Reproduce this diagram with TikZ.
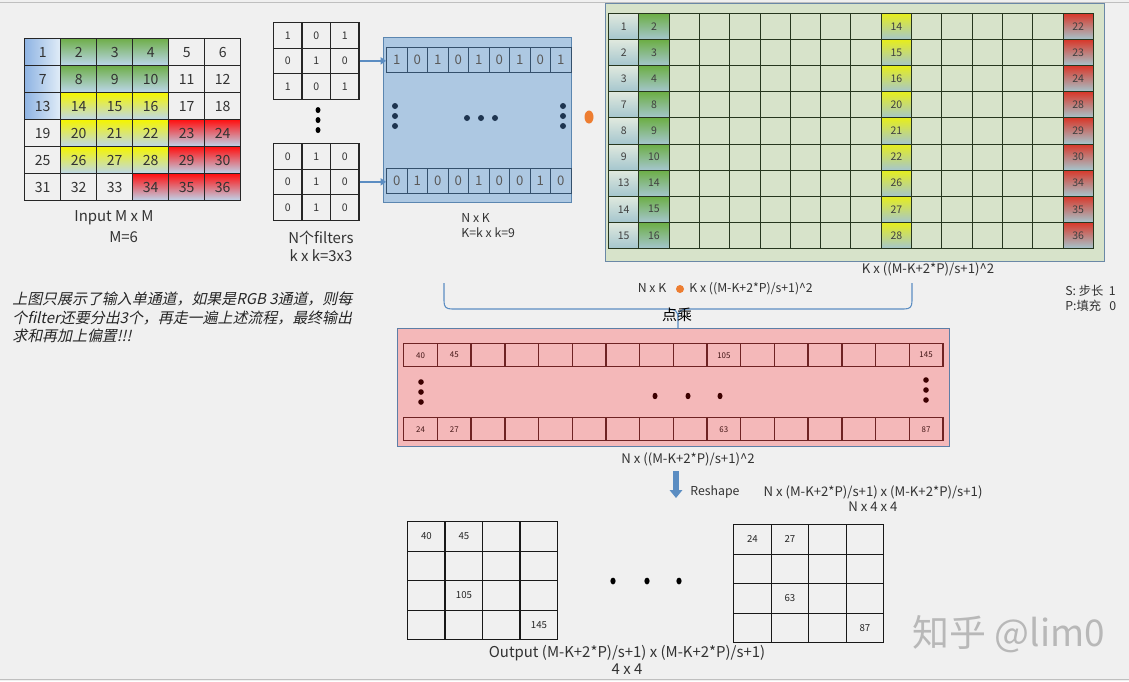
\documentclass[tikz,border=0pt]{standalone}
\usepackage{fontspec}
\setmainfont{Noto Sans CJK SC}
\newfontfamily\slantfont{Noto Sans CJK SC}[FakeSlant=0.22]
\usetikzlibrary{arrows.meta,positioning}

% colours
\definecolor{bgc}{HTML}{F0F0F0}
\definecolor{cblue}{HTML}{8FB4E3}
\definecolor{lblue}{HTML}{BDD7EE}
\definecolor{cgreen}{HTML}{6FAE4A}
\definecolor{cyellow}{HTML}{F5F500}
\definecolor{cred}{HTML}{FF1010}
\definecolor{boxblue}{HTML}{ADC8E2}
\definecolor{boxline}{HTML}{5B86B0}
\definecolor{rowline}{HTML}{34506C}
\definecolor{bdot}{HTML}{1E3550}
\definecolor{mgreen}{HTML}{D7E3CA}
\definecolor{gboxline}{HTML}{6A88A6}
\definecolor{mline}{HTML}{26361E}
\definecolor{mtop}{HTML}{E0E9DE}
\definecolor{mbot}{HTML}{A5C6CE}
\definecolor{mgr}{HTML}{6CAE45}
\definecolor{mye}{HTML}{E6EE1C}
\definecolor{mre}{HTML}{D8382A}
\definecolor{pinkfill}{HTML}{F4B8B9}
\definecolor{pboxline}{HTML}{5D7EA6}
\definecolor{pline}{HTML}{6E2323}
\definecolor{pdot}{HTML}{3C0000}
\definecolor{arrowblue}{HTML}{5B8DC2}
\definecolor{dotorange}{HTML}{ED7D31}

\begin{document}
\begin{tikzpicture}[x=0.02cm, y=-0.02cm,
    every node/.style={inner sep=0pt, text=black!80},
    lbl/.style={font=\fontsize{7}{8.5}\selectfont},
    incell/.style={draw=black!85, line width=0.8pt, anchor=north west, minimum width=0.72cm, minimum height=0.54cm, font=\fontsize{8}{9}\selectfont},
    ibl/.style={left color=cblue, right color=lblue!45!white},
    igr/.style={top color=cgreen, bottom color=lblue},
    iye/.style={top color=cyellow, bottom color=lblue},
    ire/.style={top color=cred, bottom color=lblue},
    iwh/.style={fill=bgc},
    fcell/.style={draw=black!85, line width=0.7pt, fill=bgc, anchor=north west, minimum width=0.57cm, minimum height=0.51cm, font=\fontsize{6}{7}\selectfont},
    bbox/.style={draw=boxline, fill=boxblue, line width=0.5pt, anchor=north west, minimum width=3.76cm, minimum height=3.3cm},
    rcell/.style={draw=rowline, line width=0.6pt, fill=boxblue, anchor=north west, minimum width=0.41cm, minimum height=0.5cm, text=black!65, font=\fontsize{7.5}{8}\selectfont},
    gbox/.style={draw=gboxline, fill=mgreen, line width=0.5pt, anchor=north west, minimum width=9.98cm, minimum height=5.16cm},
    mcell/.style={draw=mline, line width=0.6pt, fill=mgreen, anchor=north west, minimum width=0.606cm, minimum height=0.522cm, text=black!75, font=\fontsize{6}{7}\selectfont},
    mc1/.style={top color=mtop, bottom color=mbot},
    mc2/.style={top color=mgr, bottom color=mbot},
    mc3/.style={top color=mye, bottom color=mbot},
    mc4/.style={top color=mre, bottom color=mbot},
    pbox/.style={draw=pboxline, fill=pinkfill, line width=0.5pt, anchor=north west, minimum width=11.04cm, minimum height=2.36cm},
    pcell/.style={draw=pline, line width=0.8pt, fill=pinkfill, anchor=north west, minimum width=0.674cm, minimum height=0.46cm},
    ptxt/.style={text=pline!60!black, font=\fontsize{4.5}{5}\selectfont},
    ocell/.style={draw=black!90, line width=0.8pt, anchor=north west, minimum width=0.75cm, minimum height=0.59cm},
    otxt/.style={text=black!85, font=\fontsize{5.5}{6}\selectfont},
    link/.style={draw=arrowblue, line width=1.4pt, -{Triangle[length=3pt,width=4pt]}},
    brc/.style={draw=arrowblue, line width=0.6pt},
    bigarrow/.style={draw=arrowblue, line width=3pt, -{Triangle[length=4.5pt,width=7pt]}}
]

    % background
    \path[use as bounding box, fill=bgc] (0,0) rectangle (1129,681);
    \draw[black!25] (0,2) -- (1129,2);
    \draw[black!25] (0,679) -- (1129,679);

    % input M x M
    \foreach \n/\s in {1/ibl,2/igr,3/igr,4/igr,5/iwh,6/iwh,7/ibl,8/igr,9/igr,10/igr,11/iwh,12/iwh,
        13/ibl,14/iye,15/iye,16/iye,17/iwh,18/iwh,19/iwh,20/iye,21/iye,22/iye,23/ire,24/ire,
        25/iwh,26/iye,27/iye,28/iye,29/ire,30/ire,31/iwh,32/iwh,33/iwh,34/ire,35/ire,36/ire} {
        \pgfmathtruncatemacro\rr{(\n-1)/6}
        \pgfmathtruncatemacro\cc{mod(\n-1,6)}
        \node[incell,\s] (in\n) at ({24+36*\cc},{38+27*\rr}) {\n};
    }
    \node[font=\fontsize{8.5}{10}\selectfont] (inlbl) at (114,218) {Input M x M};
    \node[font=\fontsize{8.5}{10}\selectfont, below right=0.12cm and -0.9cm of inlbl] (mlbl) {M=6};

    % filters
    \foreach \v [count=\i from 0] in {1,0,1,0,1,0,1,0,1} {
        \pgfmathtruncatemacro\rr{\i/3}
        \pgfmathtruncatemacro\cc{mod(\i,3)}
        \node[fcell] (fa\i) at ({273+28.5*\cc},{22+25.5*\rr}) {\v};
    }
    \foreach \v [count=\i from 0] in {0,1,0,0,1,0,0,1,0} {
        \pgfmathtruncatemacro\rr{\i/3}
        \pgfmathtruncatemacro\cc{mod(\i,3)}
        \node[fcell] (fb\i) at ({273+28.5*\cc},{143+25.5*\rr}) {\v};
    }
    \foreach \y in {110,120,130} \fill[black] (318,\y) ellipse (2.5 and 3);
    \node[font=\fontsize{8.5}{10.2}\selectfont, align=center] (flbl) at (321,246) {N个filters\\ k x k=3x3};

    % N x K
    \node[bbox] (nk) at (383,37) {};
    \foreach \v [count=\i from 0] in {1,0,1,0,1,0,1,0,1}
        \node[rcell] (ra\i) at ({386+20.5*\i},47) {\v};
    \foreach \v [count=\i from 0] in {0,1,0,0,1,0,0,1,0}
        \node[rcell] (rb\i) at ({386+20.5*\i},168) {\v};
    \foreach \x/\y in {395/106,395/116,395/126,467/118,481/118,495/118,563/106,563/116,563/126}
        \fill[bdot] (\x,\y) circle (3);
    \node[lbl, align=left, anchor=north west] (nklbl) at (461,213) {N x K\\K=k x k=9};

    \draw[link] (fa5.east) -- (fa5.east -| ra0.west);
    \draw[link] (fb5.east) -- (fb5.east -| rb0.west);

    % dot product sign
    \fill[dotorange] (589,117) ellipse (4.5 and 6.5);

    % K x ((M-K+2P)/s+1)^2
    \node[gbox] (kx) at (605,3) {};
    \foreach \a/\b/\d/\e [count=\rr from 0] in {1/2/14/22,2/3/15/23,3/4/16/24,7/8/20/28,8/9/21/29,
        9/10/22/30,13/14/26/34,14/15/27/35,15/16/28/36} {
        \node[mcell,mc1] (m\rr-0) at (608,{13+26.1*\rr}) {\a};
        \node[mcell,mc2] (m\rr-1) at (638.3,{13+26.1*\rr}) {\b};
        \foreach \cc in {2,3,4,5,6,7,8,10,11,12,13,14}
            \node[mcell] (m\rr-\cc) at ({608+30.3*\cc},{13+26.1*\rr}) {};
        \node[mcell,mc3] (m\rr-9) at ({608+30.3*9},{13+26.1*\rr}) {\d};
        \node[mcell,mc4] (m\rr-15) at ({608+30.3*15},{13+26.1*\rr}) {\e};
    }
    \node[font=\fontsize{7.5}{9}\selectfont] (kxlbl) at (928,269) {K x ((M-K+2*P)/s+1)\^{}2};

    % brace
    \coordinate (tip) at (678,342);
    \draw[brc] (444,283) -- (444,301) .. controls (444,307) and (446,309) .. (452,309) -- (668,309)
        .. controls (675,309) and (678,311) .. (678,318) -- (tip);
    \draw[brc] (678,318) .. controls (678,311) and (681,309) .. (688,309) -- (904,309)
        .. controls (910,309) and (912,307) .. (912,301) -- (912,283);
    \node[lbl] (nk2) at (652,288) {N x K};
    \fill[dotorange] (680,289) circle (4);
    \node[lbl, anchor=west] (kx2) at (689,289) {K x ((M-K+2*P)/s+1)\^{}2};
    \node[font=\fontsize{8.5}{10}\selectfont, text=black] (mul) at (677,315) {点乘};

    % stride / padding
    \node[lbl, align=left, anchor=north west] (sp) at (1065,285) {S: 步长\ \ 1\\P:填充\ \ \ 0};

    % note
    \node[font=\slantfont\fontsize{8.5}{10.3}\selectfont, align=left, anchor=north west, text=black!85] (note) at (12,292)
        {上图只展示了输入单通道，如果是RGB 3通道，则每\\个filter还要分出3个，再走一遍上述流程，最终输出\\求和再加上偏置!!!};

    % N x ((M-K+2P)/s+1)^2
    \node[pbox] (nx) at (397,328) {};
    \foreach \cc in {0,...,15} {
        \node[pcell] (pa\cc) at ({403+33.7*\cc},343) {};
        \node[pcell] (pb\cc) at ({403+33.7*\cc},417) {};
    }
    \foreach \cc/\v in {0/40,1/45,9/105,15/145} \node[ptxt] at (pa\cc) {\v};
    \foreach \cc/\v in {0/24,1/27,9/63,15/87} \node[ptxt] at (pb\cc) {\v};
    \foreach \x/\y in {421/382,421/392,421/402,926/380,926/390,926/400}
        \fill[pdot] (\x,\y) circle (2.8);
    \foreach \x in {655,688,720} \fill[pdot] (\x,396) ellipse (2.5 and 3.2);
    \node[font=\fontsize{7.5}{9}\selectfont] (nxlbl) at (688,459) {N x ((M-K+2*P)/s+1)\^{}2};

    % reshape
    \coordinate (rs1) at (676,471);
    \coordinate (rs2) at (676,498);
    \draw[bigarrow] (rs1) -- (rs2);
    \node[lbl] (rslbl) at (715,492) {Reshape};
    \node[font=\fontsize{7.5}{8.5}\selectfont, align=center] (rsdim) at (873,499)
        {N x (M-K+2*P)/s+1) x (M-K+2*P)/s+1)\\N x 4 x 4};

    % output
    \foreach \rr in {0,...,3}
        \foreach \cc in {0,...,3} {
            \node[ocell] (oa\rr\cc) at ({407+37.5*\cc},{521+29.5*\rr}) {};
            \node[ocell] (ob\rr\cc) at ({733+37.5*\cc},{524+29.5*\rr}) {};
        }
    \foreach \p/\v in {00/40,01/45,21/105,33/145} \node[otxt] at (oa\p) {\v};
    \foreach \p/\v in {00/24,01/27,21/63,33/87} \node[otxt] at (ob\p) {\v};
    \foreach \x in {613,647,679} \fill[black] (\x,581) ellipse (2.6 and 3.4);
    \node[font=\fontsize{8.5}{9.7}\selectfont, align=center] (outlbl) at (627,660)
        {Output (M-K+2*P)/s+1) x (M-K+2*P)/s+1)\\4 x 4};

    % watermark
    \node[font=\fontsize{21}{24}\selectfont, text=black!28] (wm) at (1009,634) {知乎 @lim0};

\end{tikzpicture}
\end{document}
